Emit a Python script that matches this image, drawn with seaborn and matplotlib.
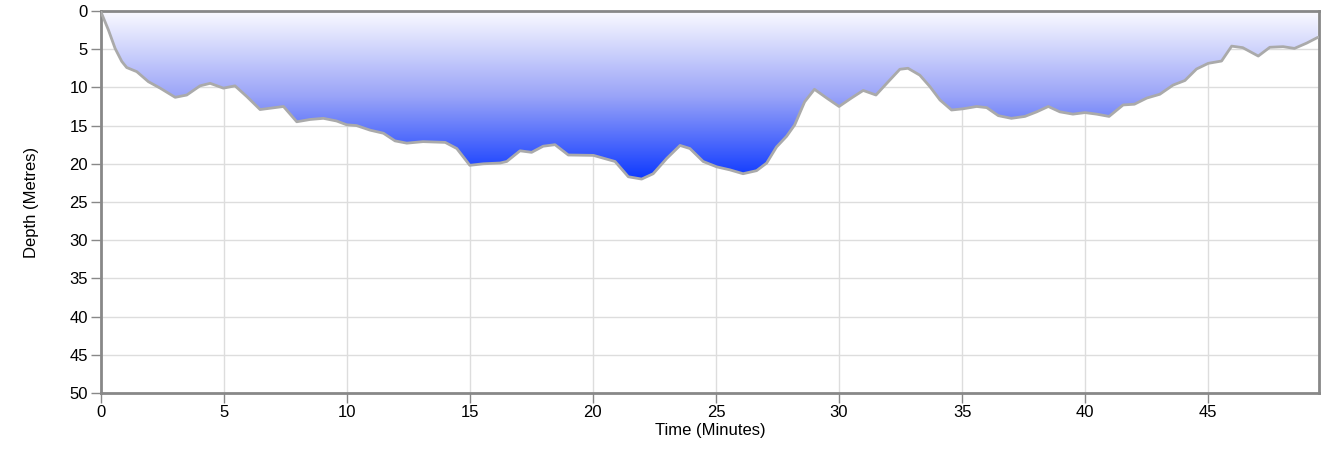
import numpy as np
import pandas as pd
import matplotlib
matplotlib.use("Agg")
import matplotlib.pyplot as plt
import seaborn as sns
from matplotlib.colors import LinearSegmentedColormap

# === DONNÉES ===
time_min = [0.0, 0.32, 0.59, 0.86, 1.06, 1.47, 1.94, 2.42, 3.03, 3.5, 4.04, 4.45, 4.99,
            5.46, 5.94, 6.48,
            7.43, 7.97, 8.51, 9.05, 9.59, 10.0, 10.4, 10.95, 11.49, 11.96, 12.44, 13.1,
            14.0, 14.47, 15.0, 15.55, 16.23, 16.5, 17.04, 17.51, 17.98, 18.46, 19.0,
            20.02, 20.9, 21.44, 21.98, 22.45, 23.0, 23.54, 23.94, 24.48, 25.03, 25.57,
            26.1, 26.65, 27.06, 27.46, 27.87, 28.2, 28.6, 29.0, 29.5, 30.0, 30.5, 30.98,
            31.5, 32.0, 32.47, 32.8, 33.28, 33.69, 34.1, 34.57, 35.04, 35.59, 36.0,
            36.47, 37.0, 37.55, 38.03, 38.5, 38.97, 39.5, 39.99, 40.46, 40.97, 41.54,
            42.0, 42.5, 43.03, 43.57, 44.05, 44.52, 45.0, 45.54, 45.95, 46.4, 47.03,
            47.5, 48.04, 48.5, 49.0, 49.45]
depth_m = [0.0, 2.5, 4.9, 6.6, 7.4, 7.94, 9.25, 10.1, 11.3, 11.0, 9.8, 9.47, 10.1,
           9.8, 11.2, 12.9,
           12.5, 14.5, 14.2, 14.05, 14.4, 14.9, 15.0, 15.6, 16.0, 17.0, 17.3, 17.1,
           17.2, 18.0, 20.2, 20.0, 19.9, 19.7, 18.3, 18.5, 17.7, 17.5, 18.85,
           18.9, 19.7, 21.7, 22.0, 21.3, 19.3, 17.6, 18.0, 19.7, 20.4, 20.8,
           21.3, 20.9, 19.9, 17.8, 16.4, 14.9, 11.9, 10.25, 11.4, 12.5, 11.4, 10.4,
           11.0, 9.25, 7.63, 7.5, 8.4, 9.9, 11.65, 12.96, 12.8, 12.5, 12.65,
           13.7, 14.05, 13.8, 13.2, 12.5, 13.2, 13.5, 13.3, 13.5, 13.8, 12.3,
           12.2, 11.4, 10.9, 9.7, 9.1, 7.6, 6.85, 6.55, 4.6, 4.8, 5.9,
           4.75, 4.67, 4.9, 4.2, 3.45]

df = pd.DataFrame({"time": time_min, "depth": depth_m})

# === FIGURE ===
sns.set_style("whitegrid", {"grid.color": "#dddddd", "axes.edgecolor": "#888888",
                            "text.color": "black", "axes.labelcolor": "black",
                            "xtick.color": "black", "ytick.color": "black"})
plt.rcParams["font.family"] = ["Liberation Sans", "DejaVu Sans"]

fig = plt.figure(figsize=(13.34, 4.54), dpi=100)
ax = fig.add_axes([0.0754, 0.1344, 0.9134, 0.8414])

# dégradé vertical clippé par la zone remplie
grad = LinearSegmentedColormap.from_list("dive", ["#fafaff", "#9aa4f8", "#0a36ff"])
img = ax.imshow(np.linspace(0, 1, 256).reshape(-1, 1), cmap=grad, aspect="auto",
                extent=[0, 49.5, 22.2, 0], zorder=1)
poly = ax.fill_between(df["time"], 0, df["depth"], color="none", zorder=1)
img.set_clip_path(poly.get_paths()[0], transform=ax.transData)

sns.lineplot(data=df, x="time", y="depth", ax=ax, color="#aaaaaa", linewidth=2,
             zorder=3)
ax.lines[-1].set_solid_joinstyle("round")

ax.set_xlim(0, 49.5)
ax.set_ylim(50, 0)
ax.set_xticks(range(0, 50, 5))
ax.set_yticks(range(0, 51, 5))
ax.set_xlabel("Time (Minutes)", fontsize=12, labelpad=2)
ax.set_ylabel("Depth (Metres)", fontsize=12, labelpad=22)
ax.tick_params(axis="both", labelsize=12, length=7, width=1, color="#888888",
               labelcolor="black", direction="out", left=True, bottom=True, pad=2)
for s in ax.spines.values():
    s.set_linewidth(2)
    s.set_color("#888888")
ax.grid(True, color="#dddddd", linewidth=1)

fig.savefig("out.png", dpi=100)
